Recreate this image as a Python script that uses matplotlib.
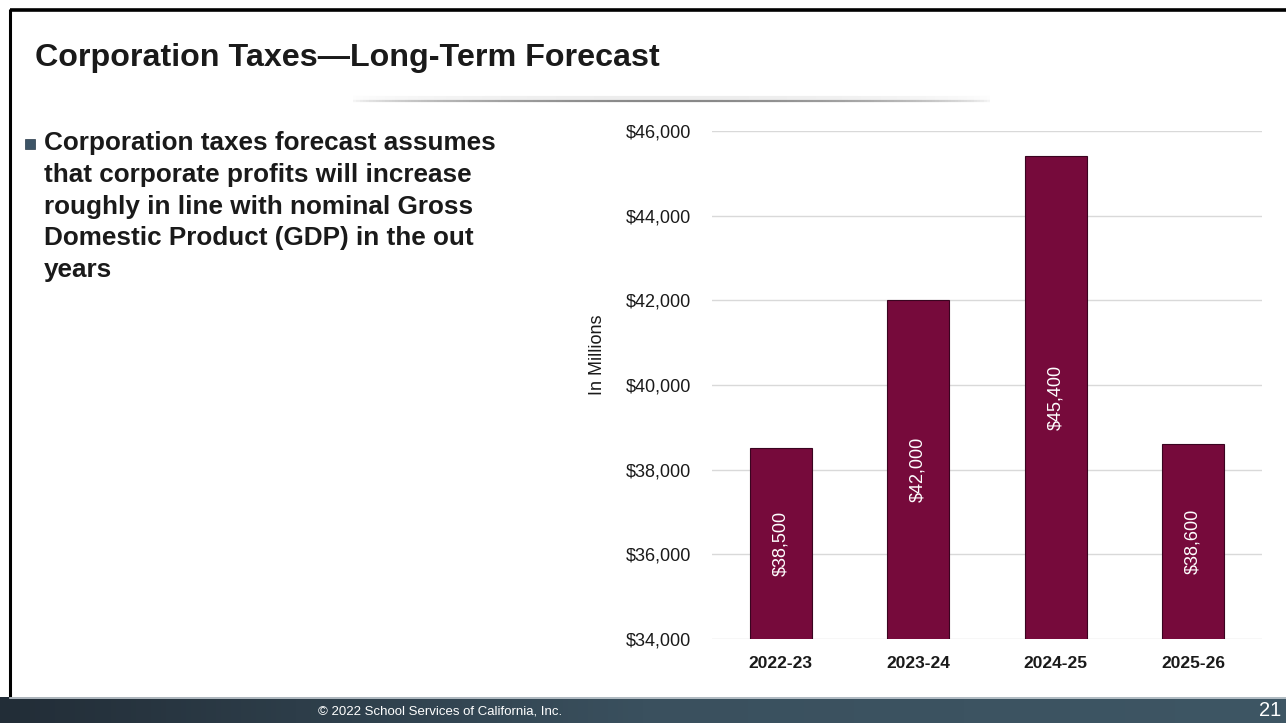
import numpy as np
import matplotlib
matplotlib.use("Agg")
import matplotlib.pyplot as plt
from matplotlib.patches import Rectangle
from matplotlib.ticker import FuncFormatter

plt.rcParams['font.family'] = ['Liberation Sans', 'DejaVu Sans']

# Data
years = ["2022-23", "2023-24", "2024-25", "2025-26"]
revenue = [38500, 42000, 45400, 38600]
y_ticks = [34000, 36000, 38000, 40000, 42000, 44000, 46000]

title = "Corporation Taxes\u2014Long-Term Forecast"
bullet_lines = [
    "Corporation taxes forecast assumes",
    "that corporate profits will increase",
    "roughly in line with nominal Gross",
    "Domestic Product (GDP) in the out",
    "years",
]
footer = "\u00a9 2022 School Services of California, Inc."
page_no = "21"

W, H = 1286, 723
fig = plt.figure(figsize=(W / 100, H / 100), dpi=100)
fig.patch.set_facecolor("white")

# Background layer in pixel coordinates
bg = fig.add_axes([0, 0, 1, 1])
bg.set_xlim(0, W)
bg.set_ylim(H, 0)
bg.axis("off")

# Slide frame
bg.plot([10, 10], [9, 697], color="black", lw=2.2, solid_capstyle="butt")
bg.plot([10, W], [9.5, 9.5], color="black", lw=2.6, solid_capstyle="butt")

# Footer band with horizontal gradient
grad = np.linspace(0, 1, 256)
c_left = np.array([0x22, 0x2d, 0x37]) / 255
c_mid = np.array([0x3a, 0x50, 0x5e]) / 255
c_right = np.array([0x3e, 0x56, 0x64]) / 255
cols = np.where(grad[:, None] < 0.5,
                c_left + (c_mid - c_left) * (grad[:, None] / 0.5),
                c_mid + (c_right - c_mid) * ((grad[:, None] - 0.5) / 0.5))
bg.imshow(cols[None, :, :], extent=[0, W, 723, 697], aspect="auto", zorder=1)
bg.plot([10, W], [697.5, 697.5], color="#c8d0d6", lw=1.2, zorder=2)
bg.text(440, 712, footer, color="white", fontsize=9.5, ha="center", va="center", zorder=3)
bg.text(1270, 711, page_no, color="white", fontsize=14.5, ha="center", va="center", zorder=3)

# Decorative rule under the title
xs = np.linspace(350, 990, 200)
for i in range(len(xs) - 1):
    t = (xs[i] - 350) / 640
    a = np.sin(np.pi * t) ** 0.6
    bg.plot(xs[i:i + 2], [101, 101], color=(0.45, 0.45, 0.45, 0.85 * a), lw=1.6,
            solid_capstyle="butt")
    bg.plot(xs[i:i + 2], [98, 98], color=(0.8, 0.8, 0.8, 0.35 * a), lw=3,
            solid_capstyle="butt")

# Title
bg.text(35, 58, title, fontsize=23.2, fontweight="bold", color="#1a1a1a",
        ha="left", va="center")

# Bullet text
bg.add_patch(Rectangle((25, 139), 10, 10, facecolor="#3d5466", edgecolor="#2a3a48", lw=0.5))
for i, line in enumerate(bullet_lines):
    bg.text(44, 143 + i * 31.8, line, fontsize=18.8, fontweight="bold", color="#1a1a1a",
            ha="left", va="center")

# Chart
ax = fig.add_axes([712 / W, 1 - 639 / H, 550 / W, 508 / H])
ax.set_facecolor("none")
x = np.arange(len(years))
bars = ax.bar(x, revenue, width=0.45, color="#760a3b", edgecolor="#3a0420",
              linewidth=0.8, zorder=3)
ax.bar_label(bars, labels=[f"${v:,.0f}" for v in revenue], label_type="center",
             rotation=90, color="white", fontsize=13)

ax.set_xlim(-0.5, 3.5)
ax.set_ylim(34000, 46000)
ax.set_yticks(y_ticks)
ax.yaxis.set_major_formatter(FuncFormatter(lambda v, p: f"${v:,.0f}"))
ax.set_xticks(x)
ax.set_xticklabels(years)
ax.grid(axis="y", color="#d9d9d9", lw=1, zorder=0)
for s in ax.spines.values():
    s.set_visible(False)
ax.tick_params(axis="both", length=0, labelsize=13, colors="#1a1a1a")
ax.tick_params(axis="y", pad=15)
ax.tick_params(axis="x", pad=12)
for lbl in ax.get_xticklabels():
    lbl.set_fontweight("bold")
    lbl.set_fontsize(12.5)
ax.set_ylabel("In Millions", fontsize=13, color="#1a1a1a")
ax.yaxis.set_label_coords(-106 / 550, (639 - 355) / 508)

fig.savefig("out.png", dpi=100)
